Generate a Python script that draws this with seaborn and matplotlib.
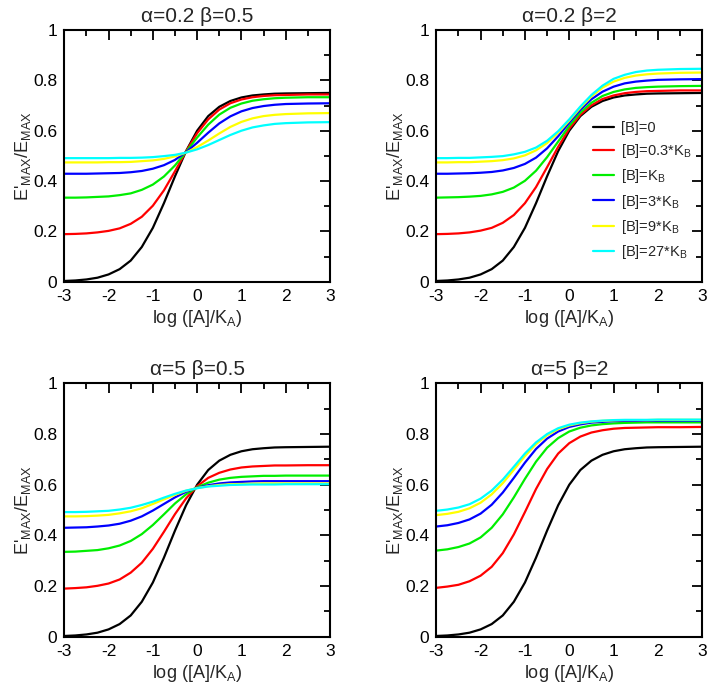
import matplotlib
matplotlib.use("Agg")
import matplotlib.pyplot as plt
from matplotlib.ticker import MultipleLocator, FuncFormatter
import seaborn as sns
import pandas as pd

# log([A]/K_A) sample points
log_a = [-3, -2.75, -2.5, -2.25, -2, -1.75, -1.5, -1.25, -1, -0.75, -0.5, -0.25,
         0, 0.25, 0.5, 0.75, 1, 1.25, 1.5, 1.75, 2, 2.5, 3]

# [B]=0 curve, same in all four panels
b_zero = [0.003, 0.005, 0.009, 0.016, 0.029, 0.050, 0.084, 0.138, 0.214, 0.312, 0.419, 0.519,
          0.600, 0.658, 0.695, 0.718, 0.732, 0.740, 0.744, 0.747, 0.748, 0.749, 0.750]

# alpha=0.2 beta=0.5
p1_b03 = [0.189, 0.190, 0.192, 0.196, 0.202, 0.212, 0.230, 0.258, 0.302, 0.363, 0.439, 0.518,
          0.590, 0.645, 0.684, 0.709, 0.724, 0.733, 0.738, 0.741, 0.742, 0.744, 0.744]
p1_b1 = [0.334, 0.334, 0.335, 0.337, 0.339, 0.344, 0.351, 0.365, 0.386, 0.418, 0.462, 0.516,
         0.573, 0.624, 0.664, 0.691, 0.708, 0.719, 0.725, 0.729, 0.731, 0.733, 0.733]
p1_b3 = [0.429, 0.429, 0.429, 0.430, 0.431, 0.432, 0.435, 0.440, 0.449, 0.463, 0.484, 0.515,
         0.552, 0.592, 0.629, 0.657, 0.677, 0.690, 0.698, 0.703, 0.706, 0.708, 0.709]
p1_b9 = [0.474, 0.474, 0.474, 0.474, 0.475, 0.475, 0.476, 0.479, 0.482, 0.488, 0.498, 0.513,
         0.535, 0.561, 0.589, 0.615, 0.635, 0.649, 0.658, 0.663, 0.666, 0.669, 0.670]
p1_b27 = [0.491, 0.491, 0.491, 0.491, 0.491, 0.492, 0.492, 0.493, 0.495, 0.499, 0.504, 0.513,
          0.526, 0.543, 0.563, 0.583, 0.600, 0.613, 0.621, 0.627, 0.630, 0.633, 0.634]

# alpha=0.2 beta=2
p2_b03 = [0.189, 0.190, 0.192, 0.196, 0.203, 0.214, 0.234, 0.265, 0.312, 0.376, 0.455, 0.536,
          0.608, 0.663, 0.701, 0.726, 0.740, 0.749, 0.754, 0.757, 0.758, 0.760, 0.760]
p2_b1 = [0.334, 0.335, 0.336, 0.338, 0.341, 0.347, 0.357, 0.374, 0.401, 0.441, 0.495, 0.557,
         0.619, 0.672, 0.711, 0.738, 0.754, 0.764, 0.770, 0.773, 0.775, 0.777, 0.778]
p2_b3 = [0.429, 0.429, 0.430, 0.431, 0.433, 0.436, 0.442, 0.452, 0.468, 0.493, 0.530, 0.578,
         0.632, 0.683, 0.725, 0.755, 0.775, 0.788, 0.795, 0.799, 0.802, 0.804, 0.805]
p2_b9 = [0.474, 0.474, 0.475, 0.475, 0.477, 0.479, 0.483, 0.490, 0.502, 0.522, 0.551, 0.592,
         0.640, 0.691, 0.736, 0.771, 0.795, 0.810, 0.819, 0.824, 0.827, 0.830, 0.831]
p2_b27 = [0.491, 0.491, 0.492, 0.492, 0.494, 0.496, 0.499, 0.506, 0.516, 0.533, 0.560, 0.598,
          0.645, 0.696, 0.742, 0.779, 0.806, 0.822, 0.833, 0.839, 0.842, 0.845, 0.846]

# alpha=5 beta=0.5
p3_b03 = [0.190, 0.192, 0.195, 0.201, 0.210, 0.226, 0.253, 0.292, 0.347, 0.414, 0.484, 0.546,
          0.594, 0.627, 0.647, 0.660, 0.668, 0.672, 0.674, 0.676, 0.676, 0.677, 0.677]
p3_b1 = [0.335, 0.336, 0.339, 0.342, 0.349, 0.360, 0.378, 0.405, 0.441, 0.483, 0.526, 0.562,
         0.590, 0.608, 0.620, 0.627, 0.631, 0.633, 0.635, 0.635, 0.636, 0.636, 0.636]
p3_b3 = [0.430, 0.431, 0.432, 0.435, 0.439, 0.446, 0.458, 0.475, 0.498, 0.524, 0.550, 0.572,
         0.588, 0.598, 0.605, 0.609, 0.611, 0.613, 0.614, 0.614, 0.614, 0.614, 0.614]
p3_b9 = [0.475, 0.475, 0.476, 0.478, 0.481, 0.487, 0.495, 0.507, 0.524, 0.542, 0.560, 0.576,
         0.587, 0.594, 0.599, 0.602, 0.603, 0.604, 0.605, 0.605, 0.605, 0.605, 0.605]
p3_b27 = [0.492, 0.492, 0.493, 0.495, 0.497, 0.502, 0.509, 0.520, 0.533, 0.549, 0.564, 0.577,
          0.586, 0.593, 0.596, 0.599, 0.600, 0.601, 0.601, 0.601, 0.602, 0.602, 0.602]

# alpha=5 beta=2
p4_b03 = [0.193, 0.198, 0.205, 0.219, 0.241, 0.276, 0.330, 0.404, 0.492, 0.583, 0.662, 0.723,
          0.764, 0.790, 0.806, 0.815, 0.821, 0.824, 0.825, 0.826, 0.827, 0.827, 0.828]
p4_b1 = [0.340, 0.345, 0.354, 0.368, 0.392, 0.430, 0.483, 0.550, 0.623, 0.691, 0.746, 0.784,
         0.810, 0.825, 0.834, 0.839, 0.842, 0.844, 0.845, 0.846, 0.846, 0.846, 0.846]
p4_b3 = [0.435, 0.440, 0.449, 0.463, 0.486, 0.521, 0.569, 0.627, 0.687, 0.741, 0.782, 0.810,
         0.828, 0.838, 0.845, 0.848, 0.851, 0.852, 0.852, 0.853, 0.853, 0.853, 0.853]
p4_b9 = [0.480, 0.485, 0.493, 0.507, 0.529, 0.562, 0.606, 0.659, 0.713, 0.760, 0.795, 0.819,
         0.834, 0.843, 0.849, 0.852, 0.854, 0.855, 0.855, 0.855, 0.856, 0.856, 0.856]
p4_b27 = [0.497, 0.502, 0.510, 0.523, 0.545, 0.577, 0.620, 0.671, 0.723, 0.767, 0.800, 0.823,
          0.837, 0.845, 0.850, 0.853, 0.855, 0.856, 0.856, 0.856, 0.857, 0.857, 0.857]

series_labels = ["[B]=0", "[B]=0.3*K$_\\mathregular{B}$", "[B]=K$_\\mathregular{B}$",
                 "[B]=3*K$_\\mathregular{B}$", "[B]=9*K$_\\mathregular{B}$", "[B]=27*K$_\\mathregular{B}$"]
line_colors = ["#000000", "#ff0000", "#00ee00", "#0000ff", "#ffff00", "#00ffff"]

panels = [
    ("\u03b1=0.2 \u03b2=0.5", [b_zero, p1_b03, p1_b1, p1_b3, p1_b9, p1_b27]),
    ("\u03b1=0.2 \u03b2=2", [b_zero, p2_b03, p2_b1, p2_b3, p2_b9, p2_b27]),
    ("\u03b1=5 \u03b2=0.5", [b_zero, p3_b03, p3_b1, p3_b3, p3_b9, p3_b27]),
    ("\u03b1=5 \u03b2=2", [b_zero, p4_b03, p4_b1, p4_b3, p4_b9, p4_b27]),
]

sns.set_style("white")
plt.rcParams["font.family"] = ["Liberation Sans", "DejaVu Sans"]
plt.rcParams["mathtext.fontset"] = "custom"
plt.rcParams["mathtext.rm"] = "Liberation Sans"
plt.rcParams["mathtext.it"] = "Liberation Sans:italic"

fig = plt.figure(figsize=(7.08, 6.9), dpi=100)
boxes = [[0.0908, 0.5917, 0.3753, 0.3648], [0.6162, 0.5917, 0.3757, 0.3648],
         [0.0908, 0.0772, 0.3753, 0.3672], [0.6162, 0.0772, 0.3757, 0.3672]]

for i, (title, curves) in enumerate(panels):
    ax = fig.add_axes(boxes[i])
    rows = []
    for lab, ys in zip(series_labels, curves):
        assert len(ys) == len(log_a)
        for xv, yv in zip(log_a, ys):
            rows.append({"logA": xv, "E": yv, "B": lab})
    df = pd.DataFrame(rows)
    sns.lineplot(data=df, x="logA", y="E", hue="B", palette=line_colors,
                 hue_order=series_labels, estimator=None, sort=False,
                 linewidth=1.6, ax=ax, legend=(i == 1))
    ax.set_xlim(-3, 3)
    ax.set_ylim(0, 1)
    ax.xaxis.set_major_locator(MultipleLocator(1))
    ax.xaxis.set_minor_locator(MultipleLocator(0.5))
    ax.yaxis.set_major_locator(MultipleLocator(0.2))
    ax.yaxis.set_minor_locator(MultipleLocator(0.1))
    ax.yaxis.set_major_formatter(FuncFormatter(lambda v, p: f"{v:g}"))
    ax.xaxis.set_major_formatter(FuncFormatter(lambda v, p: f"{v:g}"))
    ax.tick_params(which="both", direction="in", top=True, right=True,
                   width=1.3, colors="black", labelsize=12.5, pad=5)
    ax.tick_params(which="major", length=7)
    ax.tick_params(which="minor", length=4)
    for sp in ax.spines.values():
        sp.set_linewidth(1.5)
        sp.set_color("black")
    ax.set_title(title, fontsize=15, pad=6)
    ax.set_xlabel("log ([A]/K$_\\mathregular{A}$)", fontsize=13, labelpad=3)
    ax.set_ylabel("E'$_\\mathregular{MAX}$/E$_\\mathregular{MAX}$", fontsize=13, labelpad=0)
    if i == 1:
        ax.legend(loc="upper left", bbox_to_anchor=(0.589, 0.64), frameon=False,
                  fontsize=10.5, handlelength=1.45, handletextpad=0.45,
                  labelspacing=0.5, borderpad=0, borderaxespad=0)

fig.savefig("out.png", dpi=100)
